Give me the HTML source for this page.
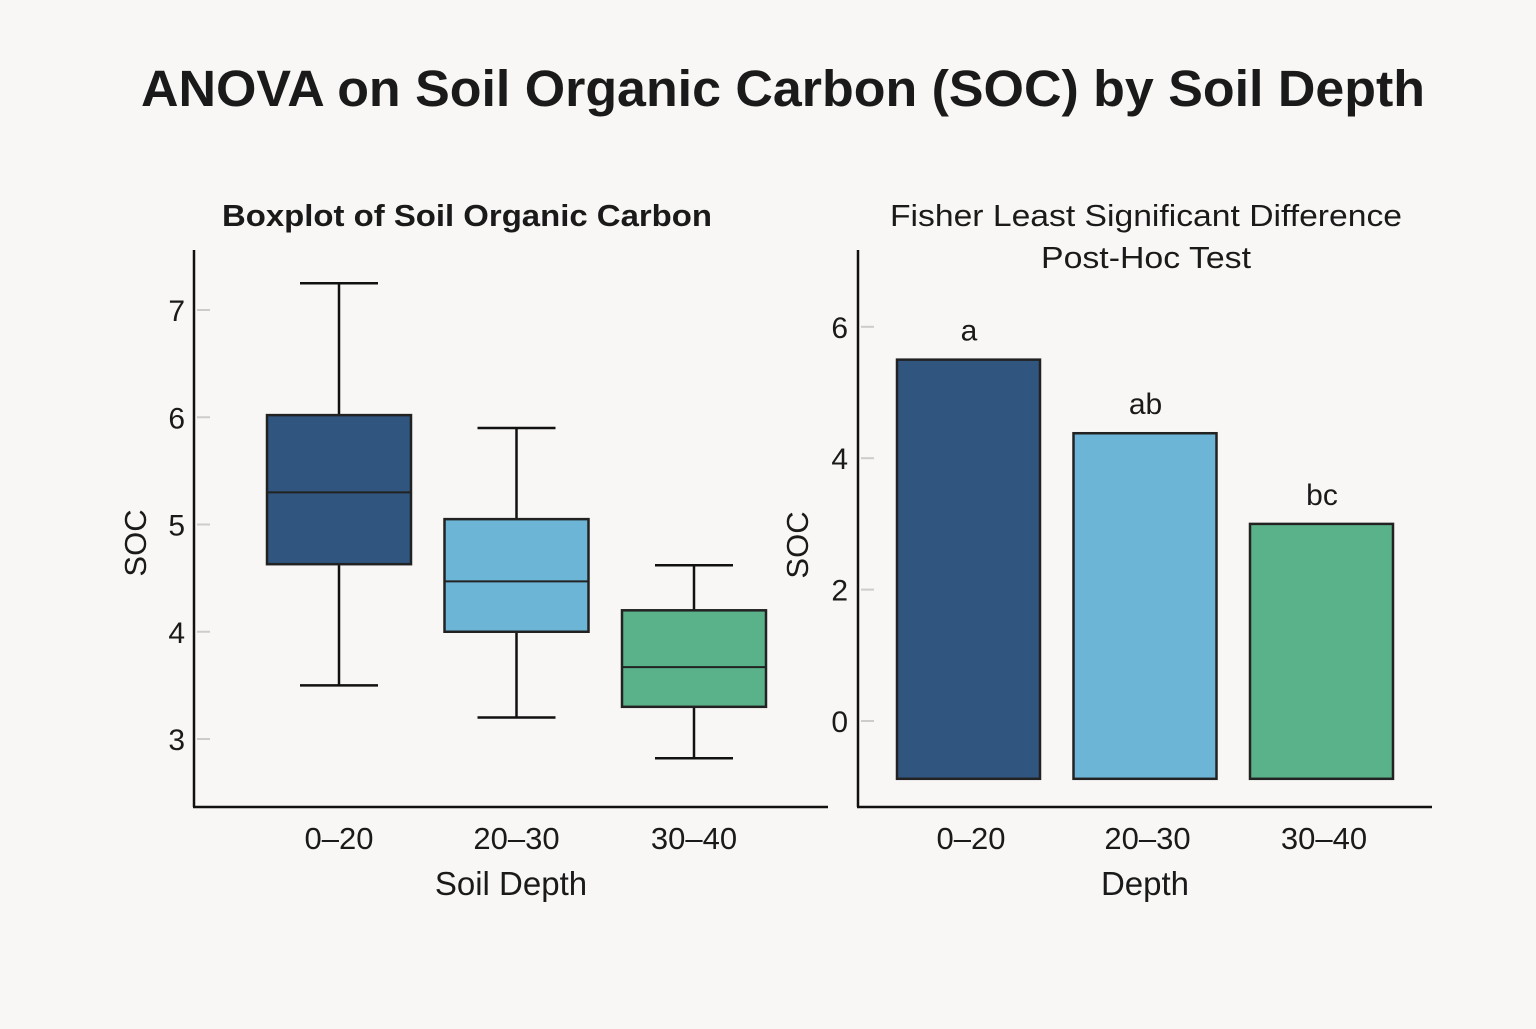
<!DOCTYPE html>
<html><head><meta charset="utf-8"><style>
body{margin:0;background:#f8f7f5;}
svg text{font-family:"Liberation Sans","DejaVu Sans",sans-serif;fill:#1a1a1a;}
</style></head><body>
<svg width="1536" height="1024" xmlns="http://www.w3.org/2000/svg">
<rect width="1536" height="1024" fill="#f8f7f5"/>
<text x="783" y="106" font-size="51" font-weight="bold" text-anchor="middle" textLength="1284" lengthAdjust="spacingAndGlyphs">ANOVA on Soil Organic Carbon (SOC) by Soil Depth</text>
<g id="left"></g>
<g id="right"></g>
</svg>
<script>
const NS="http://www.w3.org/2000/svg";
const categories=["0–20","20–30","30–40"];
const colors=["#30557f","#6db5d6","#5ab28a"];
const boxMin=[3.5,3.2,2.82];
const boxQ1=[4.63,4.0,3.3];
const boxMed=[5.3,4.47,3.67];
const boxQ3=[6.02,5.05,4.2];
const boxMax=[7.25,5.9,4.62];
const leftTicks=[3,4,5,6,7];
const barMeans=[5.5,4.38,3.0];
const barLetters=["a","ab","bc"];
const rightTicks=[0,2,4,6];
const barBase=-0.88;

function mk(parent,tag,attrs,name,text){
  const e=document.createElementNS(NS,tag);
  for(const k in attrs)e.setAttribute(k,attrs[k]);
  
  
  if(text!==undefined)e.textContent=text;
  parent.appendChild(e);return e;
}
// Left panel
const L=document.getElementById('left');
const ly=v=>739-(v-3)*107.25;
const lx=i=>339+i*177.5;
mk(L,'text',{x:467,y:226,'font-size':31,'font-weight':'bold','text-anchor':'middle',textLength:490,lengthAdjust:'spacingAndGlyphs'},'boxplot-title','Boxplot of Soil Organic Carbon');
mk(L,'line',{x1:194,y1:250,x2:194,y2:807,stroke:'#111','stroke-width':2.5},'y-axis');
mk(L,'line',{x1:193,y1:807,x2:828,y2:807,stroke:'#111','stroke-width':2.5},'x-axis');
leftTicks.forEach(t=>{
  mk(L,'line',{x1:197,y1:ly(t),x2:210,y2:ly(t),stroke:'#ccc','stroke-width':2},'y-tick');
  mk(L,'text',{x:185,y:ly(t)+11,'font-size':30,'text-anchor':'end'},'y-tick-label',String(t));
});
mk(L,'text',{x:146,y:543,'font-size':31,'text-anchor':'middle',transform:'rotate(-90 146 543)'},'y-axis-title','SOC');
mk(L,'text',{x:511,y:895,'font-size':33,'text-anchor':'middle'},'x-axis-title','Soil Depth');
categories.forEach((c,i)=>{
  const x=lx(i);
  mk(L,'line',{x1:x,y1:ly(boxMax[i]),x2:x,y2:ly(boxQ3[i]),stroke:'#111','stroke-width':2.5},'whisker-upper');
  mk(L,'line',{x1:x,y1:ly(boxQ1[i]),x2:x,y2:ly(boxMin[i]),stroke:'#111','stroke-width':2.5},'whisker-lower');
  mk(L,'line',{x1:x-39,y1:ly(boxMax[i]),x2:x+39,y2:ly(boxMax[i]),stroke:'#111','stroke-width':2.5},'cap-upper');
  mk(L,'line',{x1:x-39,y1:ly(boxMin[i]),x2:x+39,y2:ly(boxMin[i]),stroke:'#111','stroke-width':2.5},'cap-lower');
  mk(L,'rect',{x:x-72,y:ly(boxQ3[i]),width:144,height:ly(boxQ1[i])-ly(boxQ3[i]),fill:colors[i],stroke:'#222','stroke-width':2.5},'box-'+c);
  mk(L,'line',{x1:x-72,y1:ly(boxMed[i]),x2:x+72,y2:ly(boxMed[i]),stroke:'#222','stroke-width':2},'median');
  mk(L,'text',{x:x,y:849,'font-size':31,'text-anchor':'middle'},'x-tick-label',c);
});
// Right panel
const R=document.getElementById('right');
const ry=v=>721-v*65.7;
const rx=i=>969+i*176.5;
mk(R,'text',{x:1146,y:226,'font-size':31,'text-anchor':'middle',textLength:512,lengthAdjust:'spacingAndGlyphs'},'bar-title-line1','Fisher Least Significant Difference');
mk(R,'text',{x:1146,y:268,'font-size':31,'text-anchor':'middle',textLength:210,lengthAdjust:'spacingAndGlyphs'},'bar-title-line2','Post-Hoc Test');
mk(R,'line',{x1:858,y1:250,x2:858,y2:807,stroke:'#111','stroke-width':2.5},'y-axis');
mk(R,'line',{x1:857,y1:807,x2:1432,y2:807,stroke:'#111','stroke-width':2.5},'x-axis');
rightTicks.forEach(t=>{
  mk(R,'line',{x1:861,y1:ry(t),x2:874,y2:ry(t),stroke:'#ccc','stroke-width':2},'y-tick');
  mk(R,'text',{x:848,y:ry(t)+11,'font-size':30,'text-anchor':'end'},'y-tick-label',String(t));
});
mk(R,'text',{x:808,y:545,'font-size':31,'text-anchor':'middle',transform:'rotate(-90 808 545)'},'y-axis-title','SOC');
mk(R,'text',{x:1145,y:895,'font-size':33,'text-anchor':'middle'},'x-axis-title','Depth');
categories.forEach((c,i)=>{
  const x=rx(i);
  mk(R,'rect',{x:x-72,y:ry(barMeans[i]),width:143,height:ry(barBase)-ry(barMeans[i]),fill:colors[i],stroke:'#222','stroke-width':2.5},'bar-'+c);
  mk(R,'text',{x:x,y:ry(barMeans[i])-19,'font-size':30,'text-anchor':'middle'},'significance-letter',barLetters[i]);
  mk(R,'text',{x:x+2,y:849,'font-size':31,'text-anchor':'middle'},'x-tick-label',c);
});
</script>
</body></html>
